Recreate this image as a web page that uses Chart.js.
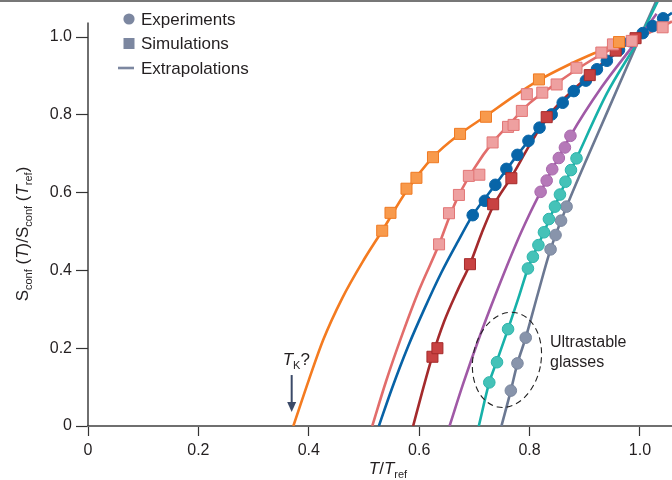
<!DOCTYPE html>
<html>
<head>
<meta charset="utf-8">
<script src="https://cdn.jsdelivr.net/npm/chart.js@4.4.1/dist/chart.umd.min.js"></script>
<style>
  html, body { margin: 0; padding: 0; background: #fff; }
  #wrap { width: 672px; height: 480px; }
</style>
</head>
<body>
<div id="wrap"><canvas id="entropyChart" width="672" height="480"></canvas></div>
<script>
// tick values / labels
const xTicks = [0, 0.2, 0.4, 0.6, 0.8, 1.0];
const xTickLabels = ['0', '0.2', '0.4', '0.6', '0.8', '1.0'];
const yTicks = [0, 0.2, 0.4, 0.6, 0.8, 1.0];
const yTickLabels = ['0', '0.2', '0.4', '0.6', '0.8', '1.0'];

// orange simulations
const orangeSimX = [0.533, 0.548, 0.577, 0.595, 0.625, 0.674, 0.721, 0.817, 0.962];
const orangeSimY = [0.502, 0.548, 0.610, 0.638, 0.691, 0.751, 0.795, 0.891, 0.987];
const orangeFitX = [0.372, 0.40, 0.426, 0.46, 0.50, 0.533, 0.577, 0.625, 0.674, 0.721, 0.77, 0.817, 0.87, 0.92, 0.962, 0.985];
const orangeFitY = [0, 0.118, 0.221, 0.327, 0.428, 0.502, 0.604, 0.691, 0.751, 0.797, 0.846, 0.889, 0.928, 0.960, 0.985, 0.997];

// pink simulations
const pinkSimX = [0.636, 0.654, 0.672, 0.690, 0.709, 0.733, 0.761, 0.771, 0.786, 0.795, 0.823, 0.849, 0.885, 0.930, 0.951, 0.985, 1.041];
const pinkSimY = [0.467, 0.547, 0.594, 0.643, 0.646, 0.729, 0.769, 0.774, 0.810, 0.853, 0.857, 0.878, 0.921, 0.960, 0.981, 0.990, 1.025];
const pinkFitX = [0.515, 0.54, 0.57, 0.60, 0.636, 0.654, 0.672, 0.70, 0.733, 0.765, 0.80, 0.85, 0.90, 0.95, 1.0, 1.058];
const pinkFitY = [0, 0.115, 0.238, 0.350, 0.467, 0.535, 0.594, 0.663, 0.729, 0.778, 0.830, 0.882, 0.930, 0.970, 1.000, 1.040];

// blue experiments
const blueExpX = [0.697, 0.719, 0.738, 0.758, 0.778, 0.798, 0.818, 0.840, 0.860, 0.880, 0.902, 0.922, 0.940, 0.962, 0.983, 1.005, 1.023, 1.042];
const blueExpY = [0.542, 0.579, 0.620, 0.661, 0.697, 0.733, 0.767, 0.801, 0.831, 0.861, 0.888, 0.917, 0.939, 0.967, 0.989, 1.010, 1.028, 1.048];
const blueFitX = [0.527, 0.55, 0.58, 0.61, 0.64, 0.67, 0.697, 0.738, 0.778, 0.818, 0.860, 0.902, 0.940, 0.983, 1.023, 1.058];
const blueFitY = [0, 0.094, 0.205, 0.303, 0.394, 0.474, 0.542, 0.620, 0.697, 0.767, 0.831, 0.888, 0.939, 0.989, 1.028, 1.062];

// dark red simulations
const redSimX = [0.624, 0.633, 0.692, 0.734, 0.767, 0.831, 0.909, 0.956, 0.992];
const redSimY = [0.178, 0.200, 0.416, 0.570, 0.637, 0.794, 0.902, 0.965, 0.997];
const redFitX = [0.589, 0.605, 0.624, 0.645, 0.67, 0.692, 0.713, 0.734, 0.767, 0.80, 0.831, 0.87, 0.909, 0.956, 0.992];
const redFitY = [0, 0.085, 0.180, 0.268, 0.350, 0.416, 0.495, 0.565, 0.640, 0.722, 0.792, 0.852, 0.902, 0.963, 0.997];

// purple experiments
const purpleExpX = [0.820, 0.831, 0.841, 0.853, 0.864, 0.874];
const purpleExpY = [0.602, 0.631, 0.660, 0.689, 0.716, 0.746];
const purpleFitX = [0.655, 0.68, 0.71, 0.74, 0.776, 0.80, 0.820, 0.874, 0.93, 0.994, 1.03];
const purpleFitY = [0, 0.110, 0.232, 0.344, 0.470, 0.545, 0.602, 0.746, 0.870, 0.990, 1.06];

// teal experiments (incl. ultrastable glasses)
const tealExpX = [0.727, 0.741, 0.761, 0.797, 0.806, 0.816, 0.826, 0.835, 0.846, 0.855, 0.865, 0.875, 0.885];
const tealExpY = [0.112, 0.164, 0.249, 0.405, 0.435, 0.465, 0.498, 0.532, 0.564, 0.595, 0.628, 0.658, 0.688];
const tealFitX = [0.708, 0.727, 0.741, 0.761, 0.78, 0.797, 0.826, 0.855, 0.885, 0.94, 1.0, 1.035];
const tealFitY = [0, 0.112, 0.168, 0.249, 0.330, 0.405, 0.498, 0.595, 0.688, 0.855, 1.0, 1.10];

// slate experiments (incl. ultrastable glasses)
const slateExpX = [0.766, 0.778, 0.793, 0.838, 0.847, 0.857, 0.867];
const slateExpY = [0.091, 0.161, 0.227, 0.454, 0.491, 0.528, 0.564];
const slateFitX = [0.749, 0.766, 0.778, 0.793, 0.815, 0.838, 0.867, 0.90, 0.94, 1.0, 1.035];
const slateFitY = [0, 0.091, 0.161, 0.227, 0.340, 0.454, 0.564, 0.675, 0.805, 1.0, 1.11];

const FAM = '"Liberation Sans", Arial, sans-serif';
const TEXT = '#231f20';

function pairs(xs, ys) {
    return xs.map((x, i) => ({ x: x, y: ys[i] }));
}

function fitLine(xs, ys, color) {
    return {
        data: pairs(xs, ys),
        showLine: true,
        borderColor: color,
        borderWidth: 2.6,
        pointRadius: 0,
        cubicInterpolationMode: 'monotone',
        fill: false,
        order: 2
    };
}

function markers(xs, ys, style, fill, edge) {
    return {
        data: pairs(xs, ys),
        showLine: false,
        pointStyle: style,
        pointRadius: style === 'rect' ? 7.8 : 5.8,
        backgroundColor: fill,
        borderColor: edge,
        borderWidth: 1,
        order: 1
    };
}

// draw text made of parts: normal, italic, subscript
function partFont(p) {
    if (p.s === 'sub') return '11px ' + FAM;
    if (p.s === 'i') return 'italic 17px ' + FAM;
    return '17px ' + FAM;
}
function richWidth(ctx, parts) {
    let w = 0;
    parts.forEach(p => { ctx.font = partFont(p); w += ctx.measureText(p.t).width; });
    return w;
}
function drawRich(ctx, parts, x, y) {
    let cx = x;
    parts.forEach(p => {
        ctx.font = partFont(p);
        ctx.fillText(p.t, cx, p.s === 'sub' ? y + 4 : y);
        cx += ctx.measureText(p.t).width;
    });
}

const decorations = {
    id: 'decorations',
    beforeDatasetsDraw(chart) {
        const ctx = chart.ctx;
        const xs = chart.scales.x, ys = chart.scales.y;
        ctx.save();
        // y axis line (stops a little above 1.0)
        ctx.strokeStyle = '#333';
        ctx.lineWidth = 1.4;
        ctx.beginPath();
        ctx.moveTo(xs.left, ys.getPixelForValue(1.037));
        ctx.lineTo(xs.left, ys.bottom);
        ctx.stroke();
        ctx.restore();
    },
    afterDraw(chart) {
        const ctx = chart.ctx;
        const xs = chart.scales.x, ys = chart.scales.y;
        ctx.save();

        // top frame rule
        ctx.fillStyle = '#777';
        ctx.fillRect(0, 0, chart.width, 2);

        // legend
        const slate = '#7c87a0';
        const lx = 129;
        ctx.fillStyle = slate;
        ctx.beginPath();
        ctx.arc(lx, 19, 5.6, 0, Math.PI * 2);
        ctx.fill();
        ctx.fillRect(lx - 5.5, 38, 11, 11);
        ctx.strokeStyle = slate;
        ctx.lineWidth = 2.6;
        ctx.beginPath();
        ctx.moveTo(lx - 11, 68);
        ctx.lineTo(lx + 5, 68);
        ctx.stroke();
        ctx.fillStyle = TEXT;
        ctx.font = '17px ' + FAM;
        ctx.textBaseline = 'alphabetic';
        ctx.fillText('Experiments', 141, 25);
        ctx.fillText('Simulations', 141, 49);
        ctx.fillText('Extrapolations', 141, 74);

        // T_K? with arrow
        const ax = xs.getPixelForValue(0.369);
        ctx.fillStyle = TEXT;
        drawRich(ctx, [{ t: 'T', s: 'i' }, { t: 'K', s: 'sub' }, { t: '?', s: 'n' }], ax - 9, 365);
        ctx.strokeStyle = '#3b4a68';
        ctx.fillStyle = '#3b4a68';
        ctx.lineWidth = 2;
        const a0 = ys.getPixelForValue(0.131), a1 = ys.getPixelForValue(0.036);
        ctx.beginPath();
        ctx.moveTo(ax, a0);
        ctx.lineTo(ax, a1 - 8);
        ctx.stroke();
        ctx.beginPath();
        ctx.moveTo(ax - 4.5, a1 - 10);
        ctx.lineTo(ax + 4.5, a1 - 10);
        ctx.lineTo(ax, a1);
        ctx.closePath();
        ctx.fill();

        // dashed ellipse around ultrastable glasses
        ctx.strokeStyle = '#222';
        ctx.lineWidth = 1.1;
        ctx.setLineDash([6, 4]);
        ctx.beginPath();
        ctx.ellipse(xs.getPixelForValue(0.759), ys.getPixelForValue(0.170), 34, 48, 0.19, 0, Math.PI * 2);
        ctx.stroke();
        ctx.setLineDash([]);

        ctx.fillStyle = TEXT;
        ctx.font = '16px ' + FAM;
        ctx.fillText('Ultrastable', xs.getPixelForValue(0.837), 347);
        ctx.fillText('glasses', xs.getPixelForValue(0.837), 367);

        // axis titles
        const xt = [{ t: 'T', s: 'i' }, { t: '/', s: 'n' }, { t: 'T', s: 'i' }, { t: 'ref', s: 'sub' }];
        const xw = richWidth(ctx, xt);
        drawRich(ctx, xt, (xs.left + xs.right) / 2 - xw / 2 + 8, 474);

        const yt = [
            { t: 'S', s: 'n' }, { t: 'conf', s: 'sub' }, { t: ' (', s: 'n' }, { t: 'T', s: 'i' },
            { t: ')/S', s: 'n' }, { t: 'conf', s: 'sub' }, { t: ' (', s: 'n' }, { t: 'T', s: 'i' },
            { t: 'ref', s: 'sub' }, { t: ')', s: 'n' }
        ];
        const yw = richWidth(ctx, yt);
        ctx.translate(28, 234);
        ctx.rotate(-Math.PI / 2);
        drawRich(ctx, yt, -yw / 2, 0);

        ctx.restore();
    }
};

const ctx = document.getElementById('entropyChart').getContext('2d');
new Chart(ctx, {
    type: 'scatter',
    data: {
        datasets: [
            markers(orangeSimX, orangeSimY, 'rect', '#f89a4c', '#f07a22'),
            markers(pinkSimX, pinkSimY, 'rect', '#eea0a0', '#e27575'),
            markers(redSimX, redSimY, 'rect', '#c84242', '#a52b2b'),
            markers(blueExpX, blueExpY, 'circle', '#0865a8', '#0865a8'),
            markers(purpleExpX, purpleExpY, 'circle', '#b579b8', '#a866ac'),
            markers(tealExpX, tealExpY, 'circle', '#45c2b8', '#2cb5ab'),
            markers(slateExpX, slateExpY, 'circle', '#8894ab', '#7a869e'),
            fitLine(orangeFitX, orangeFitY, '#f47b20'),
            fitLine(pinkFitX, pinkFitY, '#e26d6b'),
            fitLine(blueFitX, blueFitY, '#0762a6'),
            fitLine(redFitX, redFitY, '#a42a2c'),
            fitLine(purpleFitX, purpleFitY, '#a059a6'),
            fitLine(tealFitX, tealFitY, '#17b1a9'),
            fitLine(slateFitX, slateFitY, '#6b7892')
        ]
    },
    options: {
        responsive: false,
        devicePixelRatio: 1,
        animation: false,
        layout: { autoPadding: false, padding: { top: 2, right: 0, bottom: 0, left: 0 } },
        plugins: {
            legend: { display: false },
            tooltip: { enabled: false }
        },
        scales: {
            x: {
                type: 'linear',
                min: 0,
                max: 1.058,
                afterBuildTicks: s => { s.ticks = xTicks.map(v => ({ value: v })); },
                afterFit: s => { s.height = 54; s.paddingLeft = 0; s.paddingRight = 0; },
                ticks: {
                    callback: v => xTickLabels[xTicks.indexOf(v)],
                    font: { size: 16, family: FAM },
                    color: TEXT,
                    padding: 5,
                    maxRotation: 0,
                    autoSkip: false
                },
                grid: { drawOnChartArea: false, tickLength: 10, tickColor: '#333', tickWidth: 1.2 },
                border: { color: '#6f6f6f', width: 2 }
            },
            y: {
                type: 'linear',
                min: 0,
                max: 1.09,
                afterBuildTicks: s => { s.ticks = yTicks.map(v => ({ value: v })); },
                afterFit: s => { s.width = 88; s.paddingTop = 0; s.paddingBottom = 0; },
                ticks: {
                    callback: v => yTickLabels[yTicks.indexOf(v)],
                    font: { size: 16, family: FAM },
                    color: TEXT,
                    padding: 4
                },
                grid: { drawOnChartArea: false, tickLength: 12, tickColor: '#333', tickWidth: 1.2 },
                border: { display: false }
            }
        }
    },
    plugins: [decorations]
});
</script>
</body>
</html>
